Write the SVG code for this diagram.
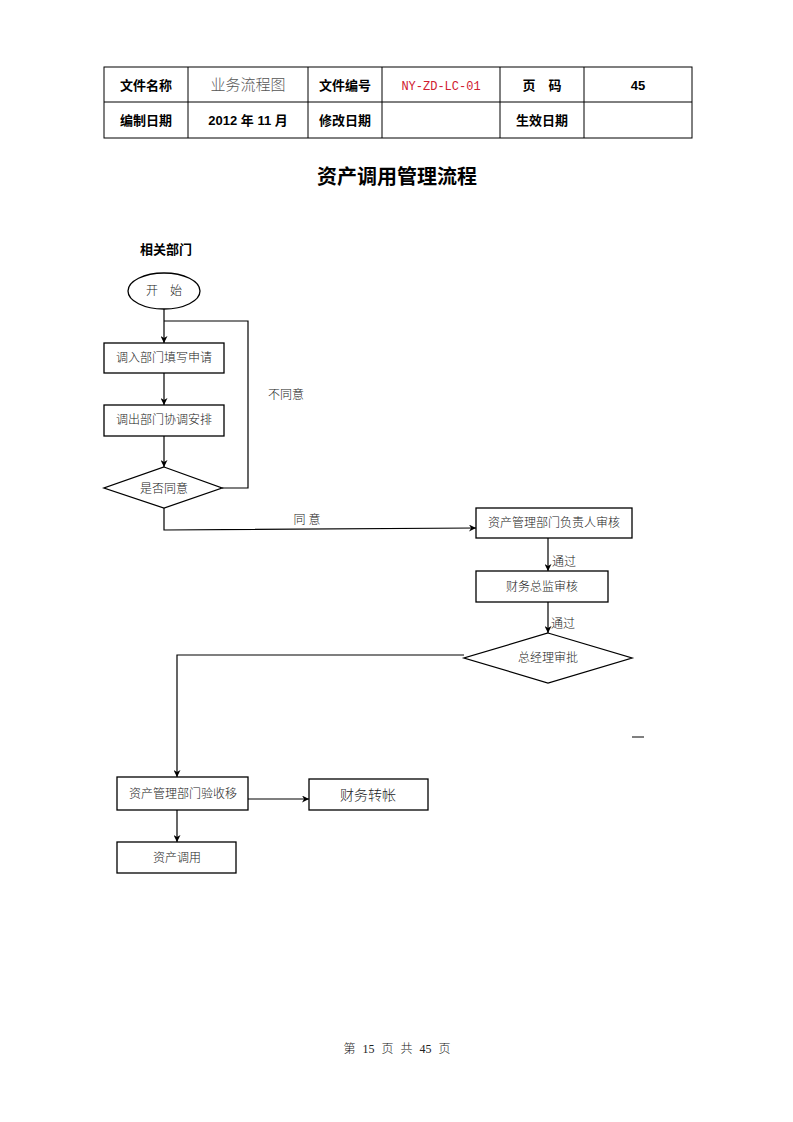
<svg xmlns="http://www.w3.org/2000/svg" width="793" height="1122" viewBox="0 0 793 1122">
<defs>
<marker id="arr" viewBox="0 0 10 10" refX="10" refY="5" markerWidth="7" markerHeight="7" orient="auto" markerUnits="userSpaceOnUse"><path d="M0,0 L10,5 L0,10 L3,5 z" fill="#000"/></marker>
<style>
.t{font-family:"Liberation Serif","Noto Sans CJK SC",serif;font-size:12px;font-weight:300;fill:#222;text-anchor:middle}
.b{font-family:"Liberation Sans","Noto Sans CJK SC",sans-serif;font-weight:bold;font-size:13px;fill:#000;text-anchor:middle}
.n{fill:#fff;stroke:#000;stroke-width:1.3}
.c{fill:none;stroke:#000;stroke-width:1.2}
.g{stroke:#000;stroke-width:1}
</style>
</defs>
<rect width="793" height="1122" fill="#fff"/>
<g id="header">
<rect x="104" y="67" width="588" height="71" fill="none" stroke="#000" stroke-width="1"/>
<line class="g" x1="104" y1="102" x2="692" y2="102"/>
<line class="g" x1="188" y1="67" x2="188" y2="138"/>
<line class="g" x1="308" y1="67" x2="308" y2="138"/>
<line class="g" x1="382" y1="67" x2="382" y2="138"/>
<line class="g" x1="500" y1="67" x2="500" y2="138"/>
<line class="g" x1="584" y1="67" x2="584" y2="138"/>
<text class="b" x="146" y="90">文件名称</text>
<text class="t" x="248" y="90" style="font-size:15px;fill:#555">业务流程图</text>
<text class="b" x="345" y="90">文件编号</text>
<text class="t" x="441" y="90" style="font-family:'Liberation Mono',monospace;fill:#d02030">NY-ZD-LC-01</text>
<text class="b" x="542" y="90">页　码</text>
<text class="b" x="638" y="90">45</text>
<text class="b" x="146" y="125">编制日期</text>
<text class="b" x="248" y="125">2012 年 11 月</text>
<text class="b" x="345" y="125">修改日期</text>
<text class="b" x="542" y="125">生效日期</text>
</g>
<text class="b" x="397" y="184" style="font-size:20px">资产调用管理流程</text>
<text class="b" x="166" y="254" style="font-size:13px">相关部门</text>
<g id="connectors">
<line class="c" x1="164" y1="309" x2="164" y2="343" marker-end="url(#arr)"/>
<polyline class="c" points="222,488 248,488 248,321 164,321"/>
<line class="c" x1="164" y1="373" x2="164" y2="405" marker-end="url(#arr)"/>
<line class="c" x1="164" y1="436" x2="164" y2="467" marker-end="url(#arr)"/>
<polyline class="c" points="164,508 164,530 476,528" marker-end="url(#arr)"/>
<line class="c" x1="548" y1="538" x2="548" y2="571" marker-end="url(#arr)"/>
<line class="c" x1="548" y1="602" x2="548" y2="633" marker-end="url(#arr)"/>
<polyline class="c" points="464,655 177,655 177,777" marker-end="url(#arr)"/>
<line class="c" x1="248" y1="799" x2="309" y2="799" marker-end="url(#arr)"/>
<line class="c" x1="177" y1="810" x2="177" y2="842" marker-end="url(#arr)"/>
<text class="t" x="286" y="399">不同意</text>
<text class="t" x="307" y="524">同 意</text>
<text class="t" x="564" y="566">通过</text>
<text class="t" x="563" y="628">通过</text>
</g>
<g id="start"><ellipse class="n" cx="164" cy="291" rx="36" ry="18"/><text class="t" x="164" y="295">开　始</text></g>
<g id="n1"><rect class="n" x="104" y="343" width="120" height="30"/><text class="t" x="164" y="362">调入部门填写申请</text></g>
<g id="n2"><rect class="n" x="104" y="405" width="120" height="31"/><text class="t" x="164" y="424">调出部门协调安排</text></g>
<g id="d1"><polygon class="n" points="164,467 222,488 164,508 104,488"/><text class="t" x="164" y="493">是否同意</text></g>
<g id="n3"><rect class="n" x="476" y="508" width="156" height="30"/><text class="t" x="554" y="527">资产管理部门负责人审核</text></g>
<g id="n4"><rect class="n" x="476" y="571" width="132" height="31"/><text class="t" x="542" y="591">财务总监审核</text></g>
<g id="d2"><polygon class="n" points="548,633 632,658 548,683 464,658"/><text class="t" x="548" y="662">总经理审批</text></g>
<g id="n5"><rect class="n" x="117" y="777" width="131" height="33"/><text class="t" x="183" y="798">资产管理部门验收移</text></g>
<g id="n6"><rect class="n" x="309" y="779" width="119" height="31"/><text class="t" x="368" y="800" style="font-size:14px">财务转帐</text></g>
<g id="n7"><rect class="n" x="117" y="842" width="119" height="31"/><text class="t" x="177" y="862">资产调用</text></g>
<line class="g" x1="632" y1="737" x2="644" y2="737" stroke-width="1.3"/>
<text class="t" x="397" y="1053" style="word-spacing:4px">第 15 页 共 45 页</text>
</svg>
